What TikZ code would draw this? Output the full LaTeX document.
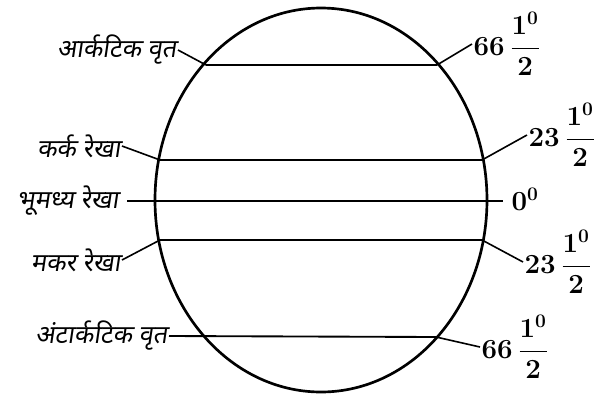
\documentclass[tikz,border=0pt]{standalone}
\usepackage{fontspec}
\newfontfamily\devfont[Script=Devanagari,FakeSlant=0.15]{Noto Sans}
\usetikzlibrary{shapes.geometric}
\tikzset{
  globe/.style={draw, ellipse, line width=2pt, minimum width=332*0.75pt, minimum height=384*0.75pt, inner sep=0pt},
  circle line/.style={line width=1.4pt},
  leader/.style={line width=1.2pt},
  hindi/.style={font=\devfont\fontsize{19}{22}\selectfont, inner sep=1pt},
  deg/.style={font=\fontsize{20.74}{24}\selectfont\boldmath, inner sep=1pt},
}
\begin{document}
\begin{tikzpicture}[x=0.75pt, y=-0.75pt]
\useasboundingbox (0,0) rectangle (608,394);
\node[globe] (globe) at (321,200) {};
% crossing points
\coordinate (arL) at (206,65);
\coordinate (arR) at (437,65);
\coordinate (caL) at (160,160);
\coordinate (caR) at (482,160);
\coordinate (eqL) at (127,201);
\coordinate (eqR) at (503,201);
\coordinate (cpL) at (160,240);
\coordinate (cpR) at (482,240);
\coordinate (anR) at (436,337);
% latitude lines
\draw[circle line] (arL) -- (arR);
\draw[circle line] (caL) -- (caR);
\draw[circle line] (eqL) -- (eqR);
\draw[circle line] (cpL) -- (cpR);
% left labels
\node[hindi, anchor=east] (arT) at (178,50) {आर्कटिक वृत};
\node[hindi, anchor=east] (caT) at (122,146) {कर्क रेखा};
\node[hindi, anchor=east] (eqT) at (120,201) {भूमध्य रेखा};
\node[hindi, anchor=east] (cpT) at (122,260) {मकर रेखा};
\node[hindi, anchor=east] (anT) at (169,336) {अंटार्कटिक वृत};
% right labels
\node[deg, anchor=west] (arN) at (472,44) {$\displaystyle 66\,\frac{1^{0}}{2}$};
\node[deg, anchor=west] (caN) at (527,135) {$\displaystyle 23\,\frac{1^{0}}{2}$};
\node[deg, anchor=west] (eqN) at (510,199) {$0^{0}$};
\node[deg, anchor=west] (cpN) at (523,262) {$\displaystyle 23\,\frac{1^{0}}{2}$};
\node[deg, anchor=west] (anN) at (480,347) {$\displaystyle 66\,\frac{1^{0}}{2}$};
% leaders
\draw[leader] (arT.east) -- (arL);
\draw[leader] (caT.east) -- (caL);
\draw[leader] (cpT.east) -- (cpL);
\draw[circle line] (anT.east) -- (anR);
\draw[leader] (arR) -- (arN.west);
\draw[leader] (caR) -- (caN.west);
\draw[leader] (cpR) -- (cpN.west);
\draw[leader] (anR) -- (anN.west);
\end{tikzpicture}
\end{document}
